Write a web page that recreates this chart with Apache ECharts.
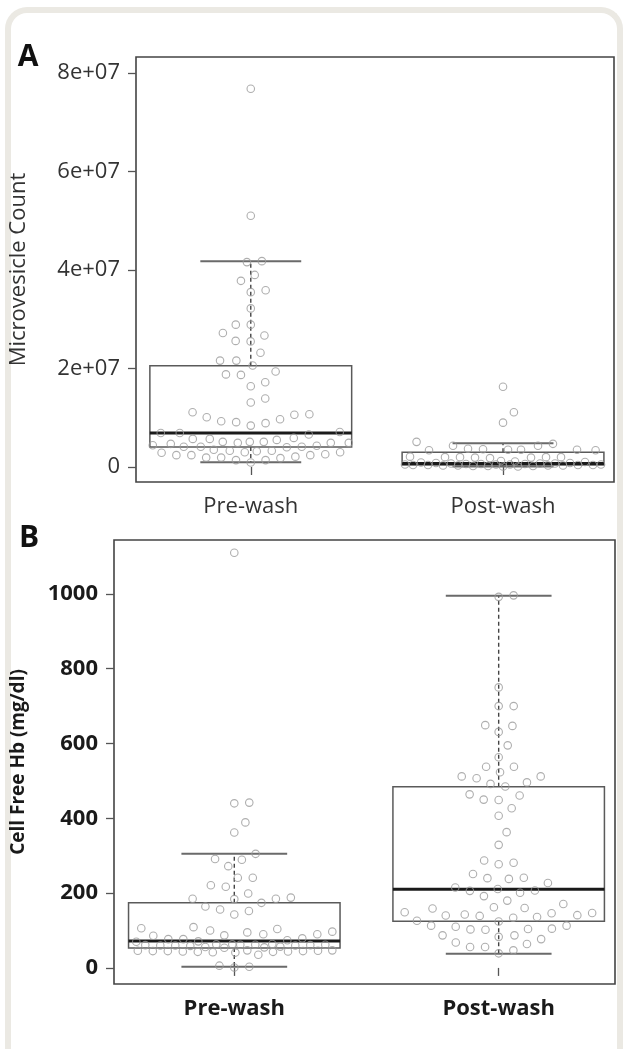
<!DOCTYPE html>
<html>
<head>
<meta charset="utf-8">
<title>Microvesicle count and cell free Hb</title>
<script src="https://cdn.jsdelivr.net/npm/echarts@6/dist/echarts.min.js"></script>
<style>
html, body {margin: 0; padding: 0; background: #fff;}
#card {position: absolute; left: 5px; top: 7px; width: 618px; height: 1060px; box-sizing: border-box; border: 6px solid #ebe9e3; border-bottom: none; border-radius: 22px 22px 0 0;}
#chart {position: absolute; left: 0; top: 0; width: 625px; height: 1049px;}
</style>
</head>
<body>
<div id="card"></div>
<div id="chart"></div>
<script>
var groupNames = ['Pre-wash', 'Post-wash'];

var tickValuesA = [0, 2e7, 4e7, 6e7, 8e7];
var tickLabelsA = ['0', '2e+07', '4e+07', '6e+07', '8e+07'];
var tickValuesB = [0, 200, 400, 600, 800, 1000];
var tickLabelsB = ['0', '200', '400', '600', '800', '1000'];

/* Box stats: lower whisker, Q1, median, Q3, upper whisker. */
var boxPreA  = [0.095e7, 0.406e7, 0.69e7, 2.057e7, 4.18e7];
var boxPostA = [0.01e7, 0.04e7, 0.07e7, 0.30e7, 0.48e7];
var boxPreB  = [3, 53, 72, 174, 305];
var boxPostB = [38, 125, 210, 484, 995];

/* Microvesicle count per sample. */
var microPre = [
    7.68e7, 5.10e7, 4.18e7, 4.16e7, 3.90e7, 3.78e7, 3.59e7, 3.55e7, 3.22e7, 2.89e7,
    2.89e7, 2.72e7, 2.67e7, 2.55e7, 2.56e7, 2.32e7, 2.16e7, 2.16e7, 2.06e7, 1.88e7,
    1.87e7, 1.94e7, 1.72e7, 1.64e7, 1.39e7, 1.31e7, 1.11e7, 1.06e7, 1.01e7, 1.07e7,
    0.97e7, 0.91e7, 0.89e7, 0.93e7, 0.84e7, 0.66e7, 0.69e7, 0.69e7, 0.71e7, 0.55e7,
    0.57e7, 0.59e7, 0.57e7, 0.49e7, 0.49e7, 0.51e7, 0.47e7, 0.51e7, 0.49e7, 0.51e7,
    0.44e7, 0.40e7, 0.41e7, 0.41e7, 0.41e7, 0.43e7, 0.33e7, 0.35e7, 0.30e7, 0.33e7,
    0.30e7, 0.32e7, 0.29e7, 0.24e7, 0.24e7, 0.24e7, 0.26e7, 0.18e7, 0.19e7, 0.19e7,
    0.21e7, 0.14e7, 0.14e7, 0.09e7
];
var microPost = [
    1.63e7, 1.11e7, 0.90e7, 0.51e7, 0.47e7, 0.43e7, 0.43e7, 0.37e7, 0.35e7, 0.34e7,
    0.36e7, 0.34e7, 0.35e7, 0.35e7, 0.18e7, 0.20e7, 0.20e7, 0.19e7, 0.21e7, 0.20e7,
    0.19e7, 0.20e7, 0.12e7, 0.11e7, 0.10e7, 0.09e7, 0.08e7, 0.08e7, 0.07e7, 0.07e7,
    0.07e7, 0.06e7, 0.06e7, 0.06e7, 0.05e7, 0.05e7, 0.05e7, 0.05e7, 0.04e7, 0.04e7,
    0.04e7, 0.04e7, 0.03e7, 0.03e7, 0.03e7, 0.03e7, 0.02e7, 0.02e7, 0.02e7, 0.01e7,
    0.01e7
];

/* Cell free Hb (mg/dl) per sample. */
var hbPre = [
    1110, 440, 442, 389, 362, 305, 291, 289, 272, 241,
    241, 221, 217, 199, 188, 185, 184, 185, 174, 164,
    156, 152, 143, 106, 109, 104, 100, 95, 97, 90,
    90, 87, 86, 77, 77, 70, 74, 79, 71, 62,
    60, 63, 61, 59, 62, 64, 60, 61, 63, 60,
    62, 55, 56, 54, 57, 46, 44, 45, 47, 43,
    42, 46, 45, 41, 44, 47, 43, 45, 35, 3,
    1, 6
];
var hbPost = [
    996, 992, 750, 700, 700, 647, 649, 631, 595, 563,
    538, 538, 523, 512, 512, 507, 496, 492, 485, 464,
    461, 449, 450, 427, 407, 363, 329, 281, 277, 287,
    251, 241, 240, 238, 227, 206, 211, 207, 201, 215,
    192, 171, 180, 160, 159, 141, 134, 149, 146, 140,
    143, 136, 147, 139, 162, 124, 126, 113, 103, 105,
    113, 104, 102, 110, 83, 87, 87, 77, 68, 64,
    56, 56, 47, 39
];

var SPACING    = 15;
var MAX_SPREAD = 98;
var FONT       = '"Open Sans", "Noto Sans", sans-serif';

var chart = echarts.init(document.getElementById('chart'), null, {renderer: 'canvas'});

/**
 * Draw one box with dashed whiskers and a heavy median line.
 *
 * @param  object params
 * @param  object api
 * @access public
 * @return object
 */
function renderBox(params, api)
{
    var x  = api.value(0);
    var hw = 0.4;
    var cw = 0.2;
    var lo  = api.coord([x, api.value(1)]);
    var q1  = api.coord([x - hw, api.value(2)]);
    var md  = api.coord([x - hw, api.value(3)]);
    var q3  = api.coord([x - hw, api.value(4)]);
    var hi  = api.coord([x, api.value(5)]);
    var rgt = api.coord([x + hw, api.value(3)])[0];
    var capL = api.coord([x - cw, 0])[0];
    var capR = api.coord([x + cw, 0])[0];
    var mid  = lo[0];
    var grey = {stroke: '#5a5a5a', lineWidth: 1.5, fill: null};
    var dash = {stroke: '#444', lineWidth: 1.4, lineDash: [4, 3]};

    return {
        type: 'group',
        children: [
            {type: 'line', shape: {x1: mid, y1: q3[1], x2: mid, y2: hi[1]}, style: dash},
            {type: 'line', shape: {x1: mid, y1: q1[1], x2: mid, y2: lo[1]}, style: dash},
            {type: 'line', shape: {x1: capL, y1: hi[1], x2: capR, y2: hi[1]}, style: {stroke: '#6a6a6a', lineWidth: 2}},
            {type: 'line', shape: {x1: capL, y1: lo[1], x2: capR, y2: lo[1]}, style: {stroke: '#6a6a6a', lineWidth: 2}},
            {type: 'rect', shape: {x: q3[0], y: q3[1], width: rgt - q3[0], height: q1[1] - q3[1]}, style: grey},
            {type: 'line', shape: {x1: md[0], y1: md[1], x2: rgt, y2: md[1]}, style: {stroke: '#1a1a1a', lineWidth: 3}}
        ]
    };
}

/**
 * Place points side by side (beeswarm) in pixel space.
 * When the box width is full, use the least crowded spot.
 *
 * @param  array  ys
 * @access public
 * @return array
 */
function swarm(ys)
{
    var d2     = SPACING * SPACING;
    var order  = ys.map(function(y, i) {return i;}).sort(function(a, b) {return ys[b] - ys[a];});
    var placed = [];
    var xs     = new Array(ys.length);

    function nearest(c, y)
    {
        var best = Infinity;
        placed.forEach(function(p)
        {
            var dx = p.x - c, dy = p.y - y;
            best = Math.min(best, dx * dx + dy * dy);
        });
        return best;
    }

    order.forEach(function(i)
    {
        var y     = ys[i];
        var cands = [0];
        placed.forEach(function(p)
        {
            var dy = Math.abs(p.y - y);
            if(dy < SPACING)
            {
                var dx = Math.sqrt(d2 - dy * dy);
                cands.push(p.x + dx, p.x - dx);
            }
        });
        cands = cands.filter(function(c) {return Math.abs(c) <= MAX_SPREAD;});
        cands.sort(function(a, b) {return Math.abs(a) - Math.abs(b);});

        var x     = null;
        for(var k = 0; k < cands.length; k++)
        {
            if(nearest(cands[k], y) >= d2 - 0.01) { x = cands[k]; break; }
        }

        /* No free slot inside the box: pick the emptiest spot. */
        if(x === null)
        {
            var bestGap = -1;
            for(var c = -MAX_SPREAD; c <= MAX_SPREAD; c += 1)
            {
                var gap = nearest(c, y) - Math.abs(c) * 0.01;
                if(gap > bestGap) { bestGap = gap; x = c; }
            }
        }

        placed.push({x: x, y: y});
        xs[i] = x;
    });
    return xs;
}

function swarmData(values, center, gridIndex)
{
    var finder    = {gridIndex: gridIndex};
    var ys        = values.map(function(v) {return chart.convertToPixel(finder, [center, v])[1];});
    var pxPerUnit = chart.convertToPixel(finder, [2, 0])[0] - chart.convertToPixel(finder, [1, 0])[0];
    var offsets   = swarm(ys);
    return values.map(function(v, i) {return [center + offsets[i] / pxPerUnit, v];});
}

function xAxisFor(gridIndex, bold)
{
    return {
        type: 'value', gridIndex: gridIndex, min: 0.545, max: 2.44,
        axisLine: {show: false},
        splitLine: {show: false},
        axisTick: {customValues: [1, 2], length: 8, lineStyle: {color: '#555', width: 1.3}},
        axisLabel: {
            customValues: [1, 2], margin: 14,
            formatter: function(v) {return groupNames[Math.round(v) - 1];},
            fontFamily: FONT, fontSize: 22, fontWeight: bold ? 'bold' : 'normal', color: bold ? '#1a1a1a' : '#333'
        }
    };
}

function yAxisFor(gridIndex, min, max, ticks, labels, name, bold, gap)
{
    return {
        type: 'value', gridIndex: gridIndex, min: min, max: max,
        name: name, nameLocation: 'middle', nameGap: gap, nameRotate: 90,
        nameTextStyle: {fontFamily: FONT, fontSize: bold ? 19 : 22, fontWeight: bold ? 'bold' : 'normal', color: bold ? '#1a1a1a' : '#333'},
        axisLine: {show: false},
        splitLine: {show: false},
        axisTick: {customValues: ticks, length: 8, lineStyle: {color: '#555', width: 1.3}},
        axisLabel: {
            customValues: ticks, margin: 16,
            formatter: function(v) {return labels[ticks.indexOf(v)];},
            fontFamily: FONT, fontSize: 22, fontWeight: bold ? 'bold' : 'normal', color: bold ? '#1a1a1a' : '#333'
        }
    };
}

function pointSeries(gridIndex, data)
{
    return {
        type: 'scatter', xAxisIndex: gridIndex, yAxisIndex: gridIndex, z: 3,
        symbol: 'circle', symbolSize: 7.5, silent: true,
        itemStyle: {color: 'rgba(0,0,0,0)', borderColor: '#9a9a9a', borderWidth: 1.1},
        data: data
    };
}

function boxSeries(gridIndex, pre, post)
{
    return {
        type: 'custom', xAxisIndex: gridIndex, yAxisIndex: gridIndex, z: 2, silent: true,
        renderItem: renderBox,
        encode: {x: 0, y: [1, 2, 3, 4, 5]},
        data: [[1].concat(pre), [2].concat(post)]
    };
}

var gridStyle = {show: true, borderColor: '#444', borderWidth: 1.6, backgroundColor: 'rgba(0,0,0,0)'};

chart.setOption({
    animation: false,
    grid: [
        Object.assign({left: 135, top: 57, width: 479, height: 425}, gridStyle),
        Object.assign({left: 114, top: 540, width: 501, height: 444}, gridStyle)
    ],
    xAxis: [xAxisFor(0, false), xAxisFor(1, true)],
    yAxis: [
        yAxisFor(0, -0.305e7, 8.325e7, tickValuesA, tickLabelsA, 'Microvesicle Count', false, 106),
        yAxisFor(1, -43, 1144, tickValuesB, tickLabelsB, 'Cell Free Hb (mg/dl)', true, 86)
    ],
    graphic: [
        {type: 'text', x: 28, y: 57, style: {text: 'A', font: 'bold 30px ' + FONT, fill: '#111', align: 'center', verticalAlign: 'middle'}},
        {type: 'text', x: 29, y: 538, style: {text: 'B', font: 'bold 30px ' + FONT, fill: '#111', align: 'center', verticalAlign: 'middle'}}
    ],
    series: [
        boxSeries(0, boxPreA, boxPostA),
        boxSeries(1, boxPreB, boxPostB),
        pointSeries(0, []),
        pointSeries(0, []),
        pointSeries(1, []),
        pointSeries(1, [])
    ]
});

/* Points need the axes first, so lay out the swarm after the first render. */
chart.setOption({
    series: [
        {}, {},
        {data: swarmData(microPre, 1, 0)},
        {data: swarmData(microPost, 2, 0)},
        {data: swarmData(hbPre, 1, 1)},
        {data: swarmData(hbPost, 2, 1)}
    ]
});
</script>
</body>
</html>
